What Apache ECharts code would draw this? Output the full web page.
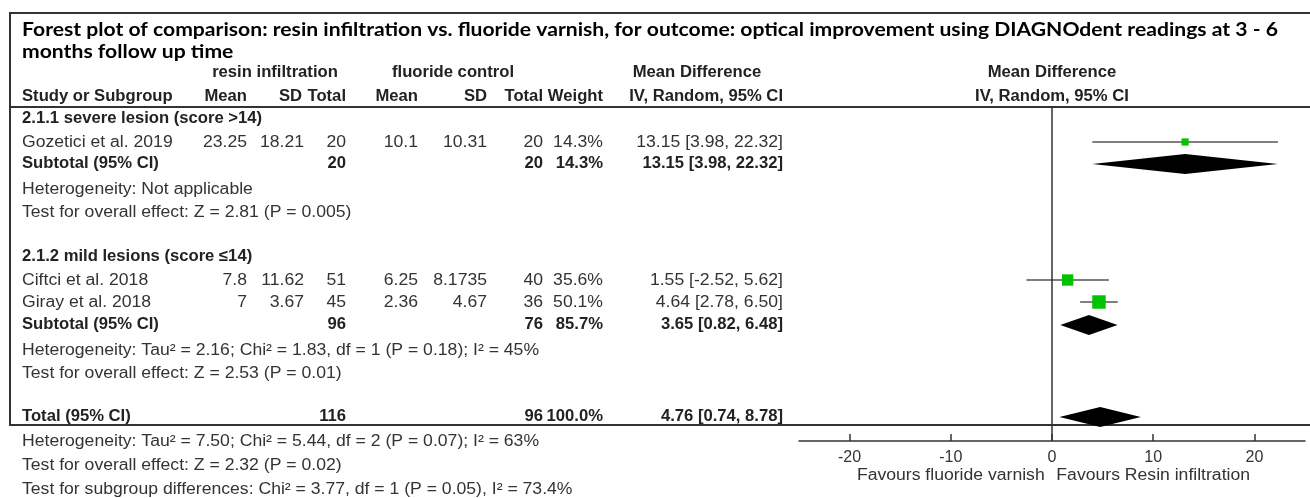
<!DOCTYPE html>
<html><head><meta charset="utf-8">
<script src="https://cdn.jsdelivr.net/npm/echarts@6/dist/echarts.min.js"></script>
<style>html,body{margin:0;padding:0;background:#fff}#c{width:1310px;height:498px}</style>
</head><body><div id="c"></div>
<script>
// ---------------- data ----------------
const titleLines = ['Forest plot of comparison: resin infiltration vs. fluoride varnish, for outcome: optical improvement using DIAGNOdent readings at 3 - 6', 'months follow up time'];
const groupNames = ['2.1.1 severe lesion (score >14)', '2.1.2 mild lesions (score \u226414)'];
const studies = ['Gozetici et al. 2019', 'Ciftci et al. 2018', 'Giray et al. 2018'];
const studyGroup = [0, 1, 1];
const resinMean = ['23.25', '7.8', '7'];
const resinSD = ['18.21', '11.62', '3.67'];
const resinN = [20, 51, 45];
const fluorMean = ['10.1', '6.25', '2.36'];
const fluorSD = ['10.31', '8.1735', '4.67'];
const fluorN = [20, 40, 36];
const studyWeight = [14.3, 35.6, 50.1];
const studyMD = [13.15, 1.55, 4.64];
const studyLo = [3.98, -2.52, 2.78];
const studyHi = [22.32, 5.62, 6.50];
const subN1 = [20, 96];
const subN2 = [20, 76];
const subWeight = [14.3, 85.7];
const subMD = [13.15, 3.65];
const subLo = [3.98, 0.82];
const subHi = [22.32, 6.48];
const subHet = ['Heterogeneity: Not applicable', 'Heterogeneity: Tau\u00b2 = 2.16; Chi\u00b2 = 1.83, df = 1 (P = 0.18); I\u00b2 = 45%'];
const subTest = ['Test for overall effect: Z = 2.81 (P = 0.005)', 'Test for overall effect: Z = 2.53 (P = 0.01)'];
const totalN1 = 116, totalN2 = 96, totalWeight = 100.0;
const totalMD = 4.76, totalLo = 0.74, totalHi = 8.78;
const footer = ['Heterogeneity: Tau\u00b2 = 7.50; Chi\u00b2 = 5.44, df = 2 (P = 0.07); I\u00b2 = 63%',
  'Test for overall effect: Z = 2.32 (P = 0.02)',
  'Test for subgroup differences: Chi\u00b2 = 3.77, df = 1 (P = 0.05), I\u00b2 = 73.4%'];
const tickValues = [-20, -10, 0, 10, 20];
const favours = ['Favours fluoride varnish', 'Favours Resin infiltration'];

// ---------------- layout ----------------
const FONT = '"Liberation Sans", Arial, sans-serif';
const FS = 16;
const SX = 1.1, SXB = 1.04;   // horizontal stretch of regular / bold table text
const TXT = '#333', TXTB = '#222';
const col = {name: 22, m1: 247, sd1: 304, n1: 346, m2: 418, sd2: 487, n2: 543, w: 603, ci: 783};
const rowGroup = [119, 257];
const rowStudy = [143, 281, 303];
const rowSub = [164, 325];
const rowHet = [190, 351];
const rowTest = [213, 374];
const rowTotal = 417;
const rowFooter = [442, 466, 490];

const ci = (m, l, h) => m.toFixed(2) + ' [' + l.toFixed(2) + ', ' + h.toFixed(2) + ']';
const G = [];
function t(x, y, text, align, bold) {
  const s = bold ? SXB : SX;
  G.push({type: 'text', x: x, y: y, scaleX: s, silent: true,
    style: {text: text, x: 0, y: 0, align: align || 'left', verticalAlign: 'middle',
      font: (bold ? 'bold ' : '') + FS + 'px ' + FONT, fill: bold ? TXTB : TXT}});
}
function ln(x1, y1, x2, y2, w, c) {
  G.push({type: 'line', silent: true, shape: {x1, y1, x2, y2}, style: {stroke: c || '#333', lineWidth: w || 2}});
}
// title: Lato bold, stretched so the first line spans the same width as the reference
const TFONT = 'bold 18px Lato, "Open Sans", sans-serif';
const mctx = document.createElement('canvas').getContext('2d');
mctx.font = TFONT;
const tScale = 1256 / mctx.measureText(titleLines[0]).width;
titleLines.forEach((s, i) => G.push({type: 'text', x: 22, y: 30 + i * 22, scaleX: tScale, silent: true,
  style: {text: s, x: 0, y: 0, align: 'left', verticalAlign: 'middle', font: TFONT, fill: '#000'}}));
// headers
t(275, 73, 'resin infiltration', 'center', true);
t(453, 73, 'fluoride control', 'center', true);
t(697, 73, 'Mean Difference', 'center', true);
t(1052, 73, 'Mean Difference', 'center', true);
t(col.name, 97, 'Study or Subgroup', 'left', true);
t(col.m1, 97, 'Mean', 'right', true);
t(col.sd1 - 2, 97, 'SD', 'right', true);
t(col.n1, 97, 'Total', 'right', true);
t(col.m2, 97, 'Mean', 'right', true);
t(col.sd2, 97, 'SD', 'right', true);
t(col.n2, 97, 'Total', 'right', true);
t(col.w, 97, 'Weight', 'right', true);
t(col.ci, 97, 'IV, Random, 95% CI', 'right', true);
t(1052, 97, 'IV, Random, 95% CI', 'center', true);
// groups
groupNames.forEach((g, gi) => {
  t(col.name, rowGroup[gi], g, 'left', true);
  studies.forEach((s, i) => {
    if (studyGroup[i] !== gi) return;
    const y = rowStudy[i];
    t(col.name, y, s);
    t(col.m1, y, resinMean[i], 'right');
    t(col.sd1, y, resinSD[i], 'right');
    t(col.n1, y, String(resinN[i]), 'right');
    t(col.m2, y, fluorMean[i], 'right');
    t(col.sd2, y, fluorSD[i], 'right');
    t(col.n2, y, String(fluorN[i]), 'right');
    t(col.w, y, studyWeight[i].toFixed(1) + '%', 'right');
    t(col.ci, y, ci(studyMD[i], studyLo[i], studyHi[i]), 'right');
  });
  const y = rowSub[gi];
  t(col.name, y, 'Subtotal (95% CI)', 'left', true);
  t(col.n1, y, String(subN1[gi]), 'right', true);
  t(col.n2, y, String(subN2[gi]), 'right', true);
  t(col.w, y, subWeight[gi].toFixed(1) + '%', 'right', true);
  t(col.ci, y, ci(subMD[gi], subLo[gi], subHi[gi]), 'right', true);
  t(col.name, rowHet[gi], subHet[gi]);
  t(col.name, rowTest[gi], subTest[gi]);
});
// total
t(col.name, rowTotal, 'Total (95% CI)', 'left', true);
t(col.n1, rowTotal, String(totalN1), 'right', true);
t(col.n2, rowTotal, String(totalN2), 'right', true);
t(col.w, rowTotal, totalWeight.toFixed(1) + '%', 'right', true);
t(col.ci, rowTotal, ci(totalMD, totalLo, totalHi), 'right', true);
footer.forEach((s, i) => t(col.name, rowFooter[i], s));
// frame lines
ln(10, 13, 1310, 13, 2);
ln(10, 12, 10, 426, 2);
ln(10, 107, 1310, 107, 2);
ln(10, 425, 1310, 425, 2);

// ---------------- chart ----------------
const chart = echarts.init(document.getElementById('c'), null, {renderer: 'canvas'});
const GRID = {left: 799, right: 5, top: 107, bottom: 57};
const studyData = studies.map((s, i) => [studyLo[i], studyHi[i], studyMD[i], rowStudy[i] - 1, studyWeight[i]]);
const diamondData = subMD.map((m, i) => [subLo[i], subHi[i], m, rowSub[i]]).concat([[totalLo, totalHi, totalMD, rowTotal]]);

chart.setOption({
  animation: false,
  grid: GRID,
  xAxis: {
    type: 'value', min: -25, max: 25,
    axisLine: {show: true, onZero: false, lineStyle: {color: '#333', width: 1.5}},
    axisTick: {show: true, inside: true, length: 7, lineStyle: {color: '#333', width: 1.5}, customValues: tickValues},
    axisLabel: {color: TXT, fontFamily: FONT, fontSize: FS, margin: 9, customValues: tickValues},
    splitLine: {show: false}
  },
  yAxis: {type: 'value', min: GRID.top, max: 498 - GRID.bottom, inverse: true, show: false},
  series: [
    {
      type: 'custom', name: 'studies', data: studyData, encode: {x: [0, 1, 2], y: 3},
      renderItem: (p, api) => {
        const y = api.value(3);
        const a = api.coord([api.value(0), y]);
        const b = api.coord([api.value(1), y]);
        const c = api.coord([api.value(2), y]);
        const s = 1.9 * Math.sqrt(api.value(4));
        return {type: 'group', children: [
          {type: 'line', shape: {x1: a[0], y1: a[1], x2: b[0], y2: b[1]}, style: {stroke: '#555', lineWidth: 1.5}},
          {type: 'rect', shape: {x: c[0] - s / 2, y: c[1] - s / 2, width: s, height: s}, style: {fill: '#00c400'}}
        ]};
      },
      markLine: {
        silent: true, symbol: 'none', label: {show: false},
        lineStyle: {color: '#333', width: 1.5, type: 'solid'},
        data: [{xAxis: 0}]
      }
    },
    {
      type: 'custom', name: 'pooled', data: diamondData, encode: {x: [0, 1, 2], y: 3},
      renderItem: (p, api) => {
        const y = api.value(3);
        const a = api.coord([api.value(0), y]);
        const b = api.coord([api.value(1), y]);
        const c = api.coord([api.value(2), y]);
        const h = 10;
        return {type: 'polygon', shape: {points: [[a[0], a[1]], [c[0], c[1] - h], [b[0], b[1]], [c[0], c[1] + h]]}, style: {fill: '#000'}};
      }
    }
  ],
  graphic: {elements: G}
});
// "Favours" labels centred on the two halves of the axis
const fy = 476;
const fl = chart.convertToPixel({xAxisIndex: 0}, -10);
const fr = chart.convertToPixel({xAxisIndex: 0}, 10);
chart.setOption({graphic: {elements: G.concat([
  {type: 'text', x: fl, y: fy, scaleX: SX, silent: true, style: {text: favours[0], x: 0, y: 0, align: 'center', verticalAlign: 'middle', font: FS + 'px ' + FONT, fill: TXT}},
  {type: 'text', x: fr, y: fy, scaleX: SX, silent: true, style: {text: favours[1], x: 0, y: 0, align: 'center', verticalAlign: 'middle', font: FS + 'px ' + FONT, fill: TXT}}
])}});
</script></body></html>
